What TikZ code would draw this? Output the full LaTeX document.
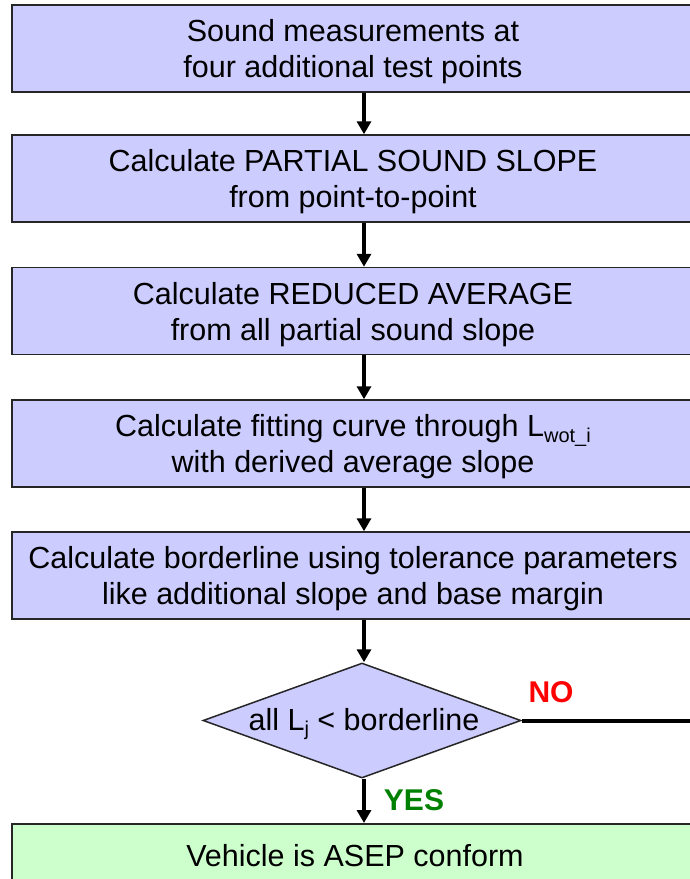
\documentclass[tikz,border=0pt]{standalone}
\usepackage{fontspec}
\setmainfont{Liberation Sans}
\usetikzlibrary{arrows.meta,shapes.geometric}
\definecolor{boxblue}{HTML}{CCCCFF}
\definecolor{boxgreen}{HTML}{CCFFCC}
\definecolor{yesgreen}{HTML}{008000}
\newcommand{\subtxt}[1]{\raisebox{-0.35ex}{\fontsize{20}{20}\selectfont #1}}
\begin{document}
\begin{tikzpicture}[x=1pt,y=-1pt,
  stepbox/.style={draw=black!85, line width=1.5pt, fill=boxblue, rectangle,
    minimum width=682pt, minimum height=87pt, inner sep=0pt},
  txt/.style={align=center, inner sep=0pt, font=\fontsize{30.5}{36}\selectfont},
  arr/.style={line width=4pt, -{Triangle[width=14pt,length=13pt]}},
  lbl/.style={font=\fontsize{30}{30}\selectfont\bfseries}]
\useasboundingbox (0,0) rectangle (690,879);
\clip (0,0) rectangle (690,879);
\node[stepbox] (b1) at (353,48.5) {};
\node[stepbox] (b2) at (353,178.5) {};
\node[stepbox] (b3) at (353,311) {};
\node[stepbox] (b4) at (353,443.5) {};
\node[stepbox] (b5) at (353,575.5) {};
\node[txt] (t1) at ([yshift=-3.5pt]b1.center) {Sound measurements at\\four additional test points};
\node[txt] (t2) at ([yshift=-3.5pt]b2.center) {Calculate PARTIAL SOUND SLOPE\\from point-to-point};
\node[txt] (t3) at ([yshift=-3.5pt]b3.center) {Calculate REDUCED AVERAGE\\from all partial sound slope};
\node[txt] (t4) at ([yshift=-3.5pt]b4.center) {Calculate fitting curve through L\subtxt{wot\_i}\\with derived average slope};
\node[txt] (t5) at ([yshift=-3.5pt]b5.center) {Calculate borderline using tolerance parameters\\like additional slope and base margin};
\node[diamond, draw=black!85, line width=1.5pt, fill=boxblue, minimum width=318pt,
  minimum height=115pt, inner sep=0pt] (d) at (362,720.5) {};
\node[txt] (dt) at (364,724) {all L\subtxt{j} < borderline};
\node[stepbox, fill=boxgreen, anchor=north] (b6) at (353,823) {};
\node[txt] (b6t) at (355,856) {Vehicle is ASEP conform};
\coordinate (noend) at (700,720.5);
\draw[arr] ([xshift=11pt]b1.south) -- ([xshift=11pt]b2.north);
\draw[arr] ([xshift=11pt]b2.south) -- ([xshift=11pt]b3.north);
\draw[arr] ([xshift=11pt]b3.south) -- ([xshift=11pt]b4.north);
\draw[arr] ([xshift=11pt]b4.south) -- ([xshift=11pt]b5.north);
\draw[arr] ([xshift=11pt]b5.south) -- ([xshift=2pt]d.north);
\draw[arr] ([xshift=2pt]d.south) -- ([xshift=11pt]b6.north);
\draw[line width=4pt] (d.east) -- (noend);
\node[lbl, text=red] (no) at (551,692) {NO};
\node[lbl, text=yesgreen] (yes) at (414,800) {YES};
\end{tikzpicture}
\end{document}
